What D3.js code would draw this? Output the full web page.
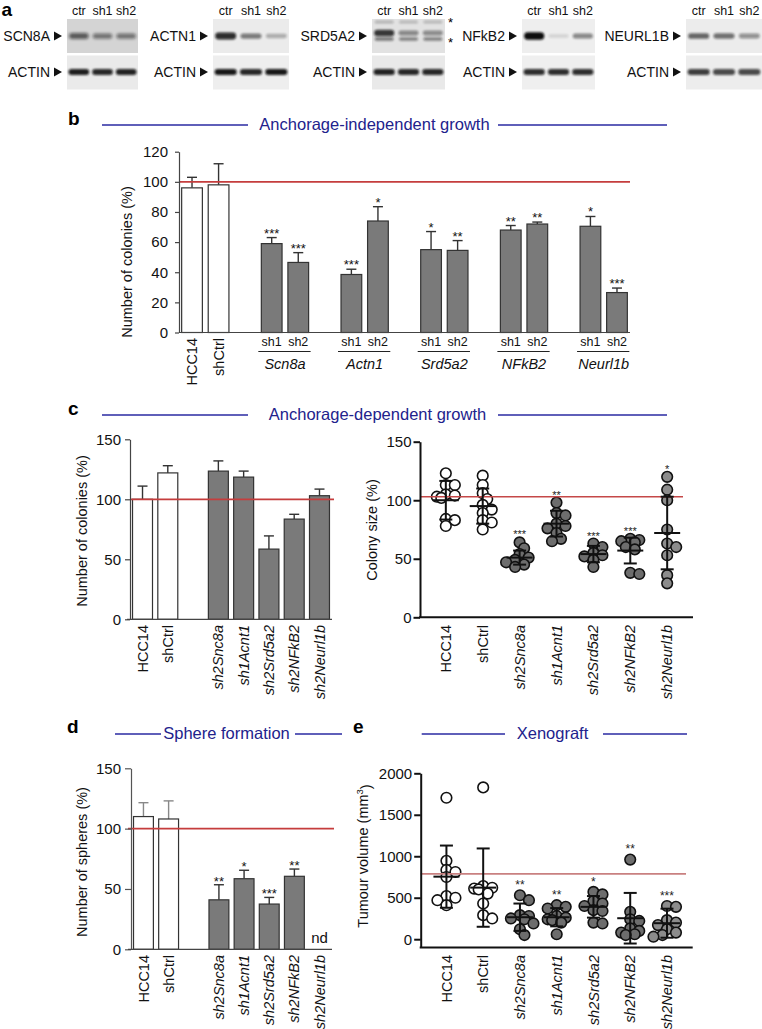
<!DOCTYPE html>
<html>
<head>
<meta charset="utf-8">
<script src="https://cdn.jsdelivr.net/npm/d3@7/dist/d3.min.js"></script>
<style>
html,body{margin:0;padding:0;background:#fff;}
svg{display:block;}
</style>
</head>
<body>
<script>
// ======================= DATA =======================
// Panel a : western blots (relative band intensity 0-1)
const blotLanes = ["ctr", "sh1", "sh2"];
const blotTargets = ["SCN8A", "ACTN1", "SRD5A2", "NFkB2", "NEURL1B"];
const targetIntensity = [
  [0.62, 0.5, 0.5],
  [0.85, 0.5, 0.28],
  [0.8, 0.42, 0.4],
  [1.0, 0.12, 0.45],
  [0.6, 0.55, 0.4]
];
const actinIntensity = [
  [0.92, 0.88, 0.9],
  [0.95, 0.88, 0.95],
  [0.9, 0.88, 0.88],
  [0.85, 0.85, 0.85],
  [0.78, 0.72, 0.72]
];
const srd5a2UpperBand = [0.22, 0.2, 0.2];
const srd5a2LowerBand = [0.5, 0.45, 0.45];

// Panel b : anchorage-independent growth
const bControls = ["HCC14", "shCtrl"];
const bControlMean = [96, 98];
const bControlErr = [7, 14];
const bGenes = ["Scn8a", "Actn1", "Srd5a2", "NFkB2", "Neurl1b"];
const bHairpins = ["sh1", "sh2"];
const bSh1Mean = [59, 38.5, 55, 68, 70.5];
const bSh1Err = [4, 3.5, 12, 3, 6.5];
const bSh2Mean = [46.5, 74, 54.5, 72, 26.5];
const bSh2Err = [6.5, 9.5, 6.5, 1.3, 3];
const bSh1Sig = ["***", "***", "*", "**", "*"];
const bSh2Sig = ["***", "*", "**", "**", "***"];
const bTicks = [0, 20, 40, 60, 80, 100, 120];
const bReference = 100;

// shared categories for c, d, e
const controls = ["HCC14", "shCtrl"];
const knockdowns = ["sh2Snc8a", "sh1Acnt1", "sh2Srd5a2", "sh2NFkB2", "sh2Neurl1b"];

// Panel c left : number of colonies
const cColonyMean = [100, 122, 123.5, 118.5, 58.5, 83.5, 103];
const cColonyErr = [11, 6, 8.5, 5, 11, 4, 5.5];
const cTicks = [0, 50, 100, 150];
const cReference = 100;

// Panel c right : colony size (individual points)
const cSizePoints = [
  [123, 113, 113, 105, 104, 103, 102, 84, 83, 78],
  [121, 113, 106, 101, 96, 92, 89, 83, 81, 75],
  [64, 59, 54, 51, 49, 47, 45, 43],
  [98, 89, 87, 80, 78, 76, 72, 67, 65],
  [63, 60, 55, 53, 52, 49, 43],
  [67, 66, 65, 64, 60, 58, 38, 37],
  [120, 109, 100, 75, 63, 60, 53, 36, 29]
];
const cSizeMean = [100, 95, 51, 80, 54, 57, 72];
const cSizeSD = [16.5, 15, 6, 11, 7, 11, 31];
const cSizeSig = ["", "", "***", "**", "***", "***", "*"];
const cSizeReference = 103;

// Panel d : sphere formation
const dSphereMean = [110, 108, 41, 58.5, 37.5, 60.5, null];
const dSphereErr = [11.5, 15, 12.5, 7, 5.5, 6, null];
const dSphereSig = ["", "", "**", "*", "***", "**", "nd"];
const dTicks = [0, 50, 100, 150];
const dReference = 100;

// Panel e : xenograft tumour volume (individual points)
const eVolumePoints = [
  [1705, 945, 835, 810, 750, 520, 500, 470, 410],
  [1830, 640, 620, 610, 600, 550, 430, 290, 250],
  [530, 470, 290, 280, 250, 240, 190, 120, 50],
  [410, 390, 370, 280, 260, 240, 230, 200, 60],
  [570, 540, 460, 430, 400, 350, 340, 200, 190],
  [960, 330, 240, 220, 130, 100, 80, 60, 50],
  [400, 390, 230, 200, 170, 120, 80, 50, 30]
];
const eVolumeMean = [754, 622, 265, 265, 390, 253, 193];
const eVolumeSD = [375, 472, 165, 110, 130, 305, 175];
const eVolumeSig = ["", "", "**", "**", "*", "**", "***"];
const eTicks = [0, 500, 1000, 1500, 2000];
const eReference = 787;

// ======================= STYLE / LAYOUT =======================
const FONT = '"Liberation Sans", Arial, Helvetica, sans-serif';
const TITLE_COLOR = "#22228c";
const TITLE_LINE = "#2a2aa2";
const RED = "#c53d3d";
const GREY = "#7a7a7a";
const DOT = "#6d6d6d";
const DOT_LIGHT = "#8c8c8c";

const svg = d3.select("body").append("svg")
  .attr("width", 762).attr("height", 1029)
  .style("font-family", FONT);

const defs = svg.append("defs");
const f1 = defs.append("filter").attr("id", "blur").attr("x", "-30%").attr("y", "-100%").attr("width", "160%").attr("height", "300%");
f1.append("feGaussianBlur").attr("stdDeviation", 1.1);
const f2 = defs.append("filter").attr("id", "blur2").attr("x", "-30%").attr("y", "-100%").attr("width", "160%").attr("height", "300%");
f2.append("feGaussianBlur").attr("stdDeviation", 1.8);

function panelLetter(t, x, y) {
  svg.append("text").attr("x", x).attr("y", y).attr("font-size", 19).attr("font-weight", "bold").text(t);
}

function sectionTitle(label, cx, y, l1, l2, r1, r2) {
  svg.append("text").attr("x", cx).attr("y", y + 5).attr("text-anchor", "middle")
    .attr("font-size", 16.5).attr("fill", TITLE_COLOR).text(label);
  svg.append("line").attr("x1", l1).attr("x2", l2).attr("y1", y).attr("y2", y)
    .attr("stroke", TITLE_LINE).attr("stroke-width", 1.7);
  svg.append("line").attr("x1", r1).attr("x2", r2).attr("y1", y).attr("y2", y)
    .attr("stroke", TITLE_LINE).attr("stroke-width", 1.7);
}

function rotLabel(g, x, y0, text, italic, size) {
  g.append("text").attr("transform", `translate(${x},${y0}) rotate(-90)`)
    .attr("text-anchor", "end").attr("dy", "0.35em")
    .attr("font-size", size || 14.5).attr("font-style", italic ? "italic" : "normal")
    .attr("fill", "#111").text(text);
}

function yTitle(x, cy, text) {
  return svg.append("text").attr("transform", `translate(${x},${cy}) rotate(-90)`)
    .attr("text-anchor", "middle").attr("dy", "0.35em")
    .attr("font-size", 14.5).attr("fill", "#111").text(text);
}

function styleAxis(g, color, width, size) {
  g.attr("font-family", FONT).attr("font-size", size || 15);
  g.selectAll("path.domain").attr("stroke", color).attr("stroke-width", width);
  g.selectAll(".tick line").attr("stroke", color).attr("stroke-width", width);
  g.selectAll(".tick text").attr("fill", "#111");
}

// ======================= PANEL a =======================
panelLetter("a", 1.5, 16);
const blotX = [67, 213, 372, 522, 686];
const blotW = [71, 76, 73, 73, 76];
const blotBg = ["#d4d4d4", "#ebebeb", "#e2e2e2", "#eeeeee", "#ececec"];
const actinBg = ["#eaeaea", "#eeeeee", "#e9e9e9", "#efefef", "#ededed"];

function band(cx, cy, w, h, k, filt) {
  svg.append("rect").attr("x", cx - w / 2).attr("y", cy - h / 2).attr("width", w).attr("height", h)
    .attr("rx", h / 2).attr("fill", "#0c0c0c").attr("opacity", k).attr("filter", `url(#${filt})`);
}
function marker(xr, cy) {
  svg.append("path").attr("d", `M${xr - 8},${cy - 4.5} L${xr},${cy} L${xr - 8},${cy + 4.5} Z`).attr("fill", "#111");
}

blotTargets.forEach((name, i) => {
  const bx = blotX[i], bw = blotW[i];
  const lane = d3.scaleBand().domain(blotLanes).range([bx, bx + bw]).paddingInner(0.08).paddingOuter(0.04);
  const lc = l => lane(l) + lane.bandwidth() / 2;
  blotLanes.forEach(l => svg.append("text").attr("x", lc(l)).attr("y", 15).attr("text-anchor", "middle")
    .attr("font-size", 12.5).attr("fill", "#111").text(l));
  svg.append("rect").attr("x", bx).attr("y", 19).attr("width", bw).attr("height", 34).attr("fill", blotBg[i]);
  svg.append("rect").attr("x", bx).attr("y", 55.5).attr("width", bw).attr("height", 34).attr("fill", actinBg[i]);
  marker(bx - 5, 36);
  svg.append("text").attr("x", bx - 17).attr("y", 41).attr("text-anchor", "end").attr("font-size", 14).attr("fill", "#111").text(name);
  marker(bx - 5, 72);
  svg.append("text").attr("x", bx - 17).attr("y", 77).attr("text-anchor", "end").attr("font-size", 14).attr("fill", "#111").text("ACTIN");
  blotLanes.forEach((l, j) => {
    const k = targetIntensity[i][j];
    const cy = name === "SRD5A2" ? 33 : 36;
    band(lc(l), cy, lane.bandwidth() * 0.9, 3 + 4.5 * k, k, i === 0 ? "blur2" : "blur");
    band(lc(l), 72, lane.bandwidth() * 0.95, 6, actinIntensity[i][j], "blur");
    if (name === "SRD5A2") {
      band(lc(l), 22, lane.bandwidth() * 0.85, 3, srd5a2UpperBand[j], "blur");
      band(lc(l), 39, lane.bandwidth() * 0.85, 3.5, srd5a2LowerBand[j], "blur");
    }
  });
  if (name === "SRD5A2") {
    svg.append("text").attr("x", bx + bw + 3).attr("y", 27).attr("font-size", 13).text("*");
    svg.append("text").attr("x", bx + bw + 3).attr("y", 47).attr("font-size", 13).text("*");
  }
});

// ======================= PANEL b =======================
panelLetter("b", 68, 125);
sectionTitle("Anchorage-independent growth", 374.5, 125, 102, 248, 498, 667);

const yB = d3.scaleLinear().domain([0, 120]).range([332.5, 151.7]);
const bSlots = [...bControls];
bGenes.forEach(g => bSlots.push("gap-" + g, g + "|sh1", g + "|sh2"));
const xB = d3.scaleBand().domain(bSlots).range([179, 630]).paddingInner(0.22).paddingOuter(0.1);

const bBars = [];
bControls.forEach((c, i) => bBars.push({ key: c, mean: bControlMean[i], err: bControlErr[i], fill: "#fff", sig: "" }));
bGenes.forEach((g, i) => {
  bBars.push({ key: g + "|sh1", mean: bSh1Mean[i], err: bSh1Err[i], fill: GREY, sig: bSh1Sig[i] });
  bBars.push({ key: g + "|sh2", mean: bSh2Mean[i], err: bSh2Err[i], fill: GREY, sig: bSh2Sig[i] });
});

const gB = svg.append("g");
function drawBarSet(g, bars, x, y, opts) {
  bars.forEach(b => {
    if (b.mean == null) return;
    const x0 = x(b.key), w = x.bandwidth(), cx = x0 + w / 2;
    const errColor = (opts.ctrlErr && b.fill === "#fff") ? opts.ctrlErr : "#333";
    g.append("line").attr("x1", cx).attr("x2", cx).attr("y1", y(b.mean)).attr("y2", y(b.mean + b.err))
      .attr("stroke", errColor).attr("stroke-width", 1.4);
    g.append("line").attr("x1", cx - 5).attr("x2", cx + 5).attr("y1", y(b.mean + b.err)).attr("y2", y(b.mean + b.err))
      .attr("stroke", errColor).attr("stroke-width", 1.4);
    g.append("rect").attr("x", x0).attr("y", y(b.mean)).attr("width", w).attr("height", y(0) - y(b.mean))
      .attr("fill", b.fill).attr("stroke", "#333").attr("stroke-width", 1.2);
    if (b.sig) {
      g.append("text").attr("x", cx).attr("y", y(b.mean + b.err) + opts.sigDy).attr("text-anchor", "middle")
        .attr("font-size", opts.sigSize).attr("fill", "#111").text(b.sig);
    }
  });
}
drawBarSet(gB, bBars, xB, yB, { sigDy: 0, sigSize: 13 });

gB.append("line").attr("x1", 179).attr("x2", 630).attr("y1", yB(bReference)).attr("y2", yB(bReference))
  .attr("stroke", RED).attr("stroke-width", 1.8);
const axB = gB.append("g").attr("transform", "translate(179,0)")
  .call(d3.axisLeft(yB).tickValues(bTicks).tickSize(4).tickPadding(7).tickSizeOuter(0));
styleAxis(axB, "#444", 1.2);
gB.append("line").attr("x1", 179).attr("x2", 630).attr("y1", yB(0)).attr("y2", yB(0)).attr("stroke", "#444").attr("stroke-width", 1.2);
yTitle(127, 262, "Number of colonies (%)");
bControls.forEach(c => rotLabel(gB, xB(c) + xB.bandwidth() / 2, 338, c, false, 14.5));
bGenes.forEach(g => {
  const a = xB(g + "|sh1"), b = xB(g + "|sh2") + xB.bandwidth();
  bHairpins.forEach(h => gB.append("text").attr("x", xB(g + "|" + h) + xB.bandwidth() / 2).attr("y", 346)
    .attr("text-anchor", "middle").attr("font-size", 12.5).attr("fill", "#111").text(h));
  gB.append("line").attr("x1", a - 3).attr("x2", b + 2).attr("y1", 351.5).attr("y2", 351.5).attr("stroke", "#222").attr("stroke-width", 1);
  gB.append("text").attr("x", (a + b) / 2).attr("y", 368.5).attr("text-anchor", "middle").attr("font-size", 14.5)
    .attr("font-style", "italic").attr("fill", "#111").text(g);
});

// ======================= PANEL c =======================
panelLetter("c", 68, 415);
sectionTitle("Anchorage-dependent growth", 377.5, 415, 102, 248, 498, 667);

const cats = [...controls, ...knockdowns];
const barSlots = [...controls, "gap", ...knockdowns];

const yCL = d3.scaleLinear().domain([0, 150]).range([619.3, 439.3]);
const xCL = d3.scaleBand().domain(barSlots).range([130, 332]).paddingInner(0.21).paddingOuter(0.1);
const gCL = svg.append("g");
const clBars = cats.map((c, i) => ({ key: c, mean: cColonyMean[i], err: cColonyErr[i], fill: i < 2 ? "#fff" : GREY, sig: "" }));
drawBarSet(gCL, clBars, xCL, yCL, { sigDy: 0, sigSize: 13 });
gCL.append("line").attr("x1", 130).attr("x2", 334).attr("y1", yCL(cReference)).attr("y2", yCL(cReference))
  .attr("stroke", RED).attr("stroke-width", 1.8);
const axCL = gCL.append("g").attr("transform", "translate(130,0)")
  .call(d3.axisLeft(yCL).tickValues(cTicks).tickSize(5).tickPadding(4).tickSizeOuter(0));
styleAxis(axCL, "#444", 1.2);
gCL.append("line").attr("x1", 127).attr("x2", 332).attr("y1", yCL(0)).attr("y2", yCL(0)).attr("stroke", "#444").attr("stroke-width", 1.2);
yTitle(82, 531, "Number of colonies (%)");
cats.forEach((c, i) => rotLabel(gCL, xCL(c) + xCL.bandwidth() / 2, 625, c, i >= 2, 14.5));

// compact beeswarm placement (overlap allowed, like the original)
function dodge(vals, y, r, cx) {
  const pts = vals.map(v => ({ v, y: y(v) })).sort((a, b) => a.y - b.y);
  const placed = [];
  const step = r * 0.85, minD = r * 1.3;
  pts.forEach(p => {
    const offs = [0];
    for (let k = 1; k <= 3; k++) offs.push(k * step, -k * step);
    for (const o of offs) {
      if (placed.every(q => Math.hypot(q.x - (cx + o), q.y - p.y) >= minD)) { p.x = cx + o; break; }
    }
    if (p.x === undefined) p.x = cx + (placed.length % 2 ? step : -step);
    placed.push(p);
  });
  return placed;
}

function scatterPanel(cfg) {
  const g = svg.append("g");
  const { x, y, points, means, sds, sigs, r } = cfg;
  cats.forEach((c, i) => {
    const cx = x(c);
    const fill = i < 2 ? "#fff" : (i === 6 ? DOT_LIGHT : DOT);
    dodge(points[i], y, r, cx).forEach(p => {
      g.append("circle").attr("cx", p.x).attr("cy", p.y).attr("r", r)
        .attr("fill", fill).attr("stroke", "#111").attr("stroke-width", 1.6);
    });
  });
  g.append("line").attr("x1", cfg.x0).attr("x2", cfg.refEnd).attr("y1", y(cfg.ref)).attr("y2", y(cfg.ref))
    .attr("stroke", cfg.refColor).attr("stroke-width", cfg.refWidth);
  cats.forEach((c, i) => {
    const cx = x(c), m = means[i], s = sds[i];
    g.append("line").attr("x1", cx).attr("x2", cx).attr("y1", y(m - s)).attr("y2", y(m + s)).attr("stroke", "#111").attr("stroke-width", 2);
    g.append("line").attr("x1", cx - 13).attr("x2", cx + 13).attr("y1", y(m)).attr("y2", y(m)).attr("stroke", "#111").attr("stroke-width", 2);
    [m - s, m + s].forEach(v => g.append("line").attr("x1", cx - 6.5).attr("x2", cx + 6.5).attr("y1", y(v)).attr("y2", y(v))
      .attr("stroke", "#111").attr("stroke-width", 2));
    if (sigs[i]) {
      const top = y(d3.max(points[i])) - r - cfg.sigGap;
      g.append("text").attr("x", cx).attr("y", top + cfg.sigSize * 0.58).attr("text-anchor", "middle")
        .attr("font-size", cfg.sigSize).attr("fill", "#222").text(sigs[i]);
    }
  });
  const ax = g.append("g").attr("transform", `translate(${cfg.x0},0)`)
    .call(d3.axisLeft(y).tickValues(cfg.ticks).tickFormat(d3.format("d")).tickSize(6.5).tickPadding(2).tickSizeOuter(0));
  styleAxis(ax, "#111", 2);
  g.append("line").attr("x1", cfg.x0 - 1).attr("x2", cfg.x1).attr("y1", y.range()[0]).attr("y2", y.range()[0])
    .attr("stroke", "#111").attr("stroke-width", 2);
  cats.forEach((c, i) => rotLabel(g, x(c), cfg.labelY, c, i >= 2, 14.5));
  return g;
}

const yCR = d3.scaleLinear().domain([0, 150]).range([617.3, 441.7]);
const xCR = d3.scalePoint().domain(cats).range([420, 693]).padding(0.7);
scatterPanel({
  x: xCR, y: yCR, points: cSizePoints, means: cSizeMean, sds: cSizeSD, sigs: cSizeSig, r: 5.3,
  x0: 420, x1: 693, refEnd: 683, ref: cSizeReference, refColor: "#c54848", refWidth: 1.4,
  ticks: cTicks, labelY: 625, sigGap: 5, sigSize: 11
});
yTitle(372, 530, "Colony size (%)");

// ======================= PANEL d =======================
panelLetter("d", 67, 733);
sectionTitle("Sphere formation", 226.5, 734, 115, 161, 295, 342);
const yD = d3.scaleLinear().domain([0, 150]).range([949.3, 768.3]);
const xD = d3.scaleBand().domain(barSlots).range([131, 332]).paddingInner(0.21).paddingOuter(0.1);
const gD = svg.append("g");
const dBars = cats.map((c, i) => ({ key: c, mean: dSphereMean[i], err: dSphereErr[i], fill: i < 2 ? "#fff" : GREY, sig: dSphereSig[i] === "nd" ? "" : dSphereSig[i] }));
drawBarSet(gD, dBars, xD, yD, { sigDy: 1, sigSize: 13, ctrlErr: "#888" });
cats.forEach((c, i) => {
  if (dSphereSig[i] === "nd") {
    gD.append("text").attr("x", xD(c) + xD.bandwidth() / 2).attr("y", 943).attr("text-anchor", "middle")
      .attr("font-size", 15).attr("fill", "#111").text("nd");
  }
});
gD.append("line").attr("x1", 128).attr("x2", 334).attr("y1", yD(dReference)).attr("y2", yD(dReference))
  .attr("stroke", RED).attr("stroke-width", 1.8);
const axD = gD.append("g").attr("transform", "translate(131,0)")
  .call(d3.axisLeft(yD).tickValues(dTicks).tickSize(6).tickPadding(4).tickSizeOuter(0));
styleAxis(axD, "#555", 1.2);
gD.append("line").attr("x1", 128).attr("x2", 332).attr("y1", yD(0)).attr("y2", yD(0)).attr("stroke", "#444").attr("stroke-width", 1.2);
yTitle(82, 862, "Number of spheres (%)");
cats.forEach((c, i) => rotLabel(gD, xD(c) + xD.bandwidth() / 2, 955, c, i >= 2, 14.5));

// ======================= PANEL e =======================
panelLetter("e", 353, 733);
sectionTitle("Xenograft", 552.5, 734, 421.7, 505, 603, 687);
const yE = d3.scaleLinear().domain([-100, 2000]).range([947.5, 773.3]);
const xE = d3.scalePoint().domain(cats).range([420.7, 692.7]).padding(0.7);
scatterPanel({
  x: xE, y: yE, points: eVolumePoints, means: eVolumeMean, sds: eVolumeSD, sigs: eVolumeSig, r: 5.3,
  x0: 420.7, x1: 692.7, refEnd: 686, ref: eReference, refColor: "#c98080", refWidth: 1.6,
  ticks: eTicks, labelY: 955, sigGap: 8, sigSize: 12
});
const et = yTitle(363, 856, "Tumour volume (mm");
et.append("tspan").attr("font-size", 9.5).attr("dy", "-0.55em").text("3");
et.append("tspan").attr("dy", "0.55em").text(")");
</script>
</body>
</html>
